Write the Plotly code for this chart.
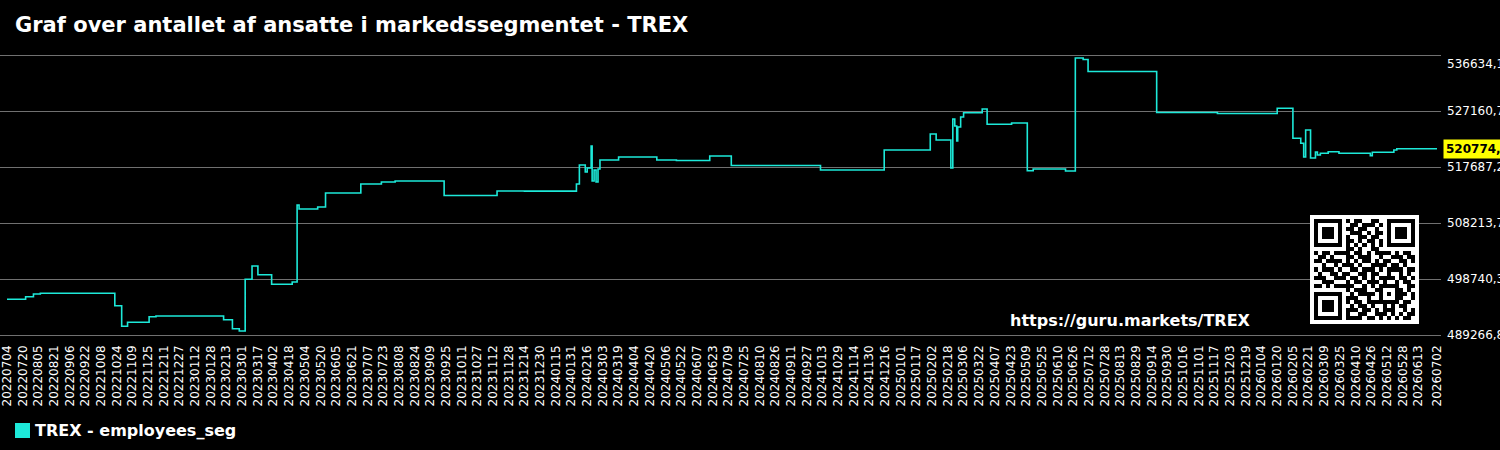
import plotly.graph_objects as go

# ---------------- data ----------------
dates = ["2022-07-04", "2022-07-23", "2022-07-31", "2022-08-07", "2022-10-22", "2022-10-29",
         "2022-11-04", "2022-11-26", "2022-12-03", "2023-02-10", "2023-02-19", "2023-02-26",
         "2023-03-04", "2023-03-11", "2023-03-17", "2023-03-31", "2023-04-21", "2023-04-26",
         "2023-04-28", "2023-05-17", "2023-05-25", "2023-06-30", "2023-07-21", "2023-08-04",
         "2023-09-23", "2023-11-16", "2023-12-14", "2024-02-05", "2024-02-08", "2024-02-14",
         "2024-02-16", "2024-02-20", "2024-02-21", "2024-02-23", "2024-02-25", "2024-02-27",
         "2024-02-29", "2024-03-19", "2024-04-27", "2024-05-17", "2024-06-20", "2024-07-12",
         "2024-10-11", "2024-12-15", "2025-01-31", "2025-02-06", "2025-02-21", "2025-02-23",
         "2025-02-25", "2025-02-27", "2025-02-28", "2025-03-03", "2025-03-06", "2025-03-25",
         "2025-03-30", "2025-04-24", "2025-05-10", "2025-05-16", "2025-06-18", "2025-06-28",
         "2025-07-06", "2025-07-11", "2025-09-19", "2025-11-20", "2026-01-20", "2026-02-05",
         "2026-02-13", "2026-02-16", "2026-02-18", "2026-02-23", "2026-02-28", "2026-03-02",
         "2026-03-05", "2026-03-13", "2026-03-24", "2026-04-25", "2026-04-27", "2026-05-19",
         "2026-05-22", "2026-07-02"]

employees = [495306, 495746, 496203, 496321, 494224, 490739, 491415, 492363, 492481, 491855,
             490333, 489944, 498690, 500940, 499468, 497844, 498233, 511259, 510582, 510921,
             513289, 514812, 515150, 515319, 512866, 513627, 513600, 514812, 518026, 516842,
             517518, 521240, 515319, 517180, 515150, 517349, 518872, 519379, 518872, 518787,
             519548, 517941, 517180, 520563, 523270, 522255, 517518, 525808, 524623, 522086,
             524454, 526146, 526874, 527499, 524911, 525131, 517062, 517349, 517011, 536127,
             535873, 533843, 526907, 526738, 527618, 522543, 521697, 519379, 523947, 519210,
             520225, 519718, 520005, 520276, 520005, 519599, 520174, 520563, 520774, 520774]

x_tick_labels = [
    "20220704", "20220720", "20220805", "20220821", "20220906", "20220922", "20221008",
    "20221024", "20221109", "20221125", "20221211", "20221227", "20230112", "20230128",
    "20230213", "20230301", "20230317", "20230402", "20230418", "20230504", "20230520",
    "20230605", "20230621", "20230707", "20230723", "20230808", "20230824", "20230909",
    "20230925", "20231011", "20231027", "20231112", "20231128", "20231214", "20231230",
    "20240115", "20240131", "20240216", "20240303", "20240319", "20240404", "20240420",
    "20240506", "20240522", "20240607", "20240623", "20240709", "20240725", "20240810",
    "20240826", "20240911", "20240927", "20241013", "20241029", "20241114", "20241130",
    "20241216", "20250101", "20250117", "20250202", "20250218", "20250306", "20250322",
    "20250407", "20250423", "20250509", "20250525", "20250610", "20250626", "20250712",
    "20250728", "20250813", "20250829", "20250914", "20250930", "20251016", "20251101",
    "20251117", "20251203", "20251219", "20260104", "20260120", "20260205", "20260221",
    "20260309", "20260325", "20260410", "20260426", "20260512", "20260528", "20260613",
    "20260702"]

y_ticks = [489266.8, 498740.3, 508213.7, 517687.2, 527160.7, 536634.1]
last_value_text = "520774,50"

title_text = "Graf over antallet af ansatte i markedssegmentet - TREX"
series_name = "TREX - employees_seg"
watermark = "https://guru.markets/TREX"

# QR-like data modules (hand typed), structural patterns overlaid below
qr_rows = [
    "1111111010110011001111111",
    "1000001001101110101000001",
    "1011101011011001001011101",
    "1011101001110101101011101",
    "1011101010011011001011101",
    "1000001011010110101000001",
    "1111111010101010101111111",
    "0000000011010011000000000",
    "1011011110110101111010110",
    "0110100011011100100111011",
    "1101111010101101011001101",
    "0010010111010011110110100",
    "1011101001101110101111011",
    "0100110110011011001001010",
    "1110011101101010111101101",
    "0011100010110111010010110",
    "1101011111001010111110011",
    "0000000010111001100011010",
    "1111111001011110101011101",
    "1000001011100100100011001",
    "1011101010110111111110110",
    "1011101001011010010101100",
    "1011101011101101011100101",
    "1000001010011001110101011",
    "1111111011110110101010110",
]

# ---------------- figure ----------------
CYAN = "#1de9d9"
FONT = "DejaVu Sans"
W, H = 1500, 450
ML, MR, MT, MB = 0, 59, 48, 108
plot_h = H - MT - MB
plot_w = W - ML - MR
step = (y_ticks[-1] - y_ticks[0]) / 5 / 56.0  # value per pixel
y_range = [y_ticks[0] - 7 * step, y_ticks[-1] + 7 * step]

x_tick_vals = [s[:4] + "-" + s[4:6] + "-" + s[6:] for s in x_tick_labels]


def px_x(p):
    return (p - ML) / plot_w


def px_y(p):
    return (H - MB - p) / plot_h


def fmt(v):
    return f"{v:.2f}".replace(".", ",")


fig = go.Figure()
fig.add_trace(go.Scatter(
    x=dates, y=employees, mode="lines", line=dict(color=CYAN, width=1.6, shape="hv"),
    name=series_name, showlegend=False, hoverinfo="x+y"))

# QR matrix
n = 25
m = [[int(c) for c in r] for r in qr_rows]


def finder(r0, c0):
    for r in range(-1, 8):
        for c in range(-1, 8):
            rr, cc = r0 + r, c0 + c
            if 0 <= rr < n and 0 <= cc < n:
                if 0 <= r <= 6 and 0 <= c <= 6:
                    on = r in (0, 6) or c in (0, 6) or (2 <= r <= 4 and 2 <= c <= 4)
                else:
                    on = False
                m[rr][cc] = 1 if on else 0


finder(0, 0)
finder(0, n - 7)
finder(n - 7, 0)
for i in range(8, n - 8):
    m[6][i] = 1 - (i % 2)
    m[i][6] = 1 - (i % 2)
for r in range(-2, 3):
    for c in range(-2, 3):
        m[18 + r][18 + c] = 1 if (abs(r) == 2 or abs(c) == 2 or (r == 0 and c == 0)) else 0

qz = 1
N = n + 2 * qz
z = [[1] * N for _ in range(N)]
for r in range(n):
    for c in range(n):
        z[r + qz][c + qz] = 0 if m[r][c] else 1

fig.add_trace(go.Heatmap(
    z=z, xaxis="x2", yaxis="y2", colorscale=[[0, "black"], [1, "white"]],
    zmin=0, zmax=1, showscale=False, hoverinfo="skip"))

fig.update_layout(
    width=W, height=H,
    margin=dict(l=ML, r=MR, t=MT, b=MB, autoexpand=False),
    paper_bgcolor="black", plot_bgcolor="black",
    font=dict(family=FONT, color="white", size=12),
    title=dict(text=title_text, x=15 / W, xanchor="left", xref="container",
               y=1 - 25 / H, yanchor="middle", yref="container",
               font=dict(family=FONT, size=21, color="white", weight="bold")),
    xaxis=dict(type="date", range=["2022-06-26 20:38", "2026-07-06 02:24"],
               tickmode="array", tickvals=x_tick_vals, ticktext=x_tick_labels,
               tickangle=-90, showgrid=False, zeroline=False, automargin=False,
               ticklabeloverflow="allow",
               showline=False, ticks="", tickfont=dict(size=12, color="white")),
    yaxis=dict(side="right", range=y_range, tickmode="array", tickvals=y_ticks,
               ticktext=[fmt(v) for v in y_ticks[:-1]] + [""], automargin=False,
               ticklabelstandoff=5, ticklabeloverflow="allow",
               showgrid=True, gridcolor="#707070", gridwidth=1.2, zeroline=False,
               showline=False, ticks="", tickfont=dict(size=12, color="white")),
    xaxis2=dict(domain=[px_x(1310), px_x(1419)], anchor="y2", visible=False,
                range=[-0.5, N - 0.5], fixedrange=True),
    yaxis2=dict(domain=[px_y(324), px_y(215)], anchor="x2", visible=False,
                range=[N - 0.5, -0.5], fixedrange=True),
    showlegend=False,
)

# top tick label (sits a little below its gridline in the reference)
fig.add_annotation(x=1, xref="paper", xanchor="left", xshift=4,
                   y=px_y(64), yref="paper", yanchor="middle",
                   text=fmt(y_ticks[-1]), showarrow=False,
                   font=dict(size=12, color="white", family=FONT))

# last value label
fig.add_annotation(x=1, xref="paper", xanchor="left", xshift=2,
                   y=employees[-1], yref="y", yanchor="middle",
                   text="<b>" + last_value_text + "</b>", showarrow=False,
                   bgcolor="#ffff00", borderpad=2,
                   font=dict(size=12, color="black", family=FONT))

# watermark
fig.add_annotation(x=px_x(1130), xref="paper", xanchor="center",
                   y=px_y(320), yref="paper", yanchor="middle",
                   text="<b>" + watermark + "</b>", showarrow=False,
                   font=dict(size=16, color="white", family=FONT))

# legend (square + label)
fig.add_shape(type="rect", xref="paper", yref="paper",
              x0=px_x(15), x1=px_x(30), y0=px_y(438), y1=px_y(423),
              fillcolor=CYAN, line=dict(width=0))
fig.add_annotation(x=px_x(33), xref="paper", xanchor="left",
                   y=px_y(430.5), yref="paper", yanchor="middle",
                   text="<b>" + series_name + "</b>", showarrow=False,
                   font=dict(size=16, color="white", family=FONT))

fig.write_html("out.html")
